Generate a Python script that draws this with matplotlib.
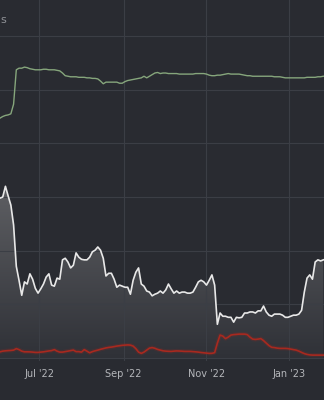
import matplotlib
matplotlib.use("Agg")
import matplotlib.pyplot as plt
import matplotlib.dates as mdates
from matplotlib.colors import LinearSegmentedColormap
import numpy as np
import pandas as pd

# every second day, 2022-06-02 .. 2023-01-26
dates = pd.date_range("2022-06-02", periods=120, freq="2D")

white_vals = [
    2.98, 3.00, 3.20, 3.02, 2.85, 2.48, 1.71, 1.45, 1.17, 1.42,
    1.38, 1.57, 1.47, 1.30, 1.21, 1.29, 1.38, 1.51, 1.57, 1.36,
    1.34, 1.49, 1.47, 1.83, 1.86, 1.79, 1.68, 1.73, 1.96, 1.88,
    1.84, 1.83, 1.83, 1.88, 1.98, 2.01, 2.07, 2.01, 1.86, 1.53,
    1.58, 1.58, 1.47, 1.32, 1.36, 1.34, 1.32, 1.32, 1.19, 1.45,
    1.60, 1.68, 1.38, 1.34, 1.25, 1.23, 1.16, 1.19, 1.21, 1.25,
    1.21, 1.27, 1.38, 1.29, 1.21, 1.25, 1.21, 1.23, 1.23, 1.21,
    1.21, 1.23, 1.32, 1.42, 1.45, 1.42, 1.36, 1.45, 1.55, 1.36,
    0.63, 0.84, 0.78, 0.78, 0.76, 0.76, 0.67, 0.76, 0.75, 0.76,
    0.84, 0.84, 0.86, 0.86, 0.84, 0.88, 0.88, 0.97, 0.86, 0.80,
    0.78, 0.82, 0.82, 0.82, 0.80, 0.76, 0.76, 0.78, 0.80, 0.80,
    0.82, 0.89, 1.23, 1.49, 1.55, 1.47, 1.79, 1.83, 1.81, 1.83,
]

green_vals = [
    4.47, 4.50, 4.52, 4.53, 4.55, 4.73, 5.37, 5.40, 5.40, 5.42,
    5.41, 5.39, 5.38, 5.37, 5.37, 5.37, 5.38, 5.38, 5.37, 5.37,
    5.37, 5.36, 5.35, 5.31, 5.26, 5.25, 5.24, 5.24, 5.24, 5.23,
    5.23, 5.23, 5.22, 5.22, 5.21, 5.21, 5.20, 5.16, 5.11, 5.14,
    5.14, 5.14, 5.14, 5.14, 5.12, 5.12, 5.15, 5.17, 5.18, 5.19,
    5.20, 5.21, 5.22, 5.25, 5.22, 5.25, 5.28, 5.31, 5.32, 5.30,
    5.31, 5.31, 5.30, 5.30, 5.30, 5.30, 5.29, 5.29, 5.29, 5.29,
    5.29, 5.29, 5.30, 5.30, 5.30, 5.30, 5.29, 5.27, 5.26, 5.26,
    5.27, 5.27, 5.28, 5.29, 5.30, 5.29, 5.29, 5.29, 5.29, 5.28,
    5.27, 5.26, 5.26, 5.25, 5.25, 5.25, 5.25, 5.25, 5.25, 5.25,
    5.25, 5.24, 5.24, 5.24, 5.23, 5.22, 5.22, 5.22, 5.22, 5.22,
    5.22, 5.22, 5.22, 5.23, 5.23, 5.23, 5.23, 5.24, 5.24, 5.25,
]

red_vals = [
    0.117, 0.130, 0.136, 0.140, 0.143, 0.149, 0.177, 0.158, 0.130, 0.117,
    0.117, 0.116, 0.112, 0.106, 0.106, 0.112, 0.117, 0.125, 0.134, 0.140,
    0.158, 0.130, 0.112, 0.112, 0.121, 0.130, 0.140, 0.149, 0.121, 0.121,
    0.112, 0.158, 0.130, 0.099, 0.121, 0.136, 0.149, 0.164, 0.177, 0.190,
    0.199, 0.205, 0.214, 0.224, 0.231, 0.238, 0.242, 0.246, 0.242, 0.224,
    0.177, 0.112, 0.088, 0.112, 0.149, 0.186, 0.196, 0.183, 0.162, 0.149,
    0.136, 0.130, 0.127, 0.125, 0.130, 0.134, 0.132, 0.129, 0.125, 0.125,
    0.125, 0.121, 0.117, 0.112, 0.104, 0.099, 0.093, 0.088, 0.089, 0.102,
    0.279, 0.429, 0.410, 0.363, 0.391, 0.429, 0.438, 0.442, 0.447, 0.447,
    0.447, 0.438, 0.391, 0.354, 0.348, 0.354, 0.363, 0.326, 0.279, 0.233,
    0.201, 0.196, 0.186, 0.181, 0.181, 0.181, 0.177, 0.168, 0.158, 0.149,
    0.130, 0.106, 0.084, 0.069, 0.060, 0.056, 0.056, 0.056, 0.056, 0.056,
]

# only the tail of the legend text is visible at the left edge
title_text = "s"

bg = "#292b31"
fig = plt.figure(figsize=(3.24, 4.0), dpi=100, facecolor=bg)
ax = fig.add_axes([0, 0.098, 1, 0.902])
ax.set_facecolor(bg)

x0 = pd.Timestamp("2022-06-02")
x1 = pd.Timestamp("2023-01-26 12:00")
ax.set_xlim(x0, x1)
ax.set_ylim(-0.05, 6.67)

# gradient fill under the white series
poly = ax.fill_between(dates, white_vals, 0, color="none", lw=0)
top = max(white_vals)
cmap = LinearSegmentedColormap.from_list("g", ["#2f3137", "#5e5f63"])
grad = np.linspace(0, 1, 256).reshape(-1, 1)
im = ax.imshow(grad, cmap=cmap, aspect="auto", origin="lower",
               extent=[mdates.date2num(x0), mdates.date2num(x1), 0, top],
               zorder=1)
im.set_clip_path(poly.get_paths()[0], transform=ax.transData)

ax.plot(dates, white_vals, color="#e8e8e8", lw=1.2, zorder=3)
ax.plot(dates, green_vals, color="#86a67c", lw=1.0, zorder=3)
ax.plot(dates, red_vals, color="#a3261f", lw=3, alpha=0.18, zorder=3)
ax.plot(dates, red_vals, color="#a8291f", lw=1.2, zorder=4)

ax.set_yticks(range(0, 7))
ax.yaxis.set_ticklabels([])
ax.xaxis.set_major_locator(mdates.MonthLocator(bymonth=[1, 3, 5, 7, 9, 11]))
ax.xaxis.set_major_formatter(mdates.DateFormatter("%b '%y"))
ax.tick_params(axis="both", length=0)
ax.tick_params(axis="x", colors="#b4b6ba", labelsize=7, pad=6)
ax.grid(True, color="#3b3e45", lw=0.8, zorder=0)
for s in ax.spines.values():
    s.set_visible(False)

fig.text(0.001, 0.95, title_text, color="#8e9095", fontsize=8,
         ha="left", va="center")

fig.savefig("out.png", dpi=100, facecolor=bg)
